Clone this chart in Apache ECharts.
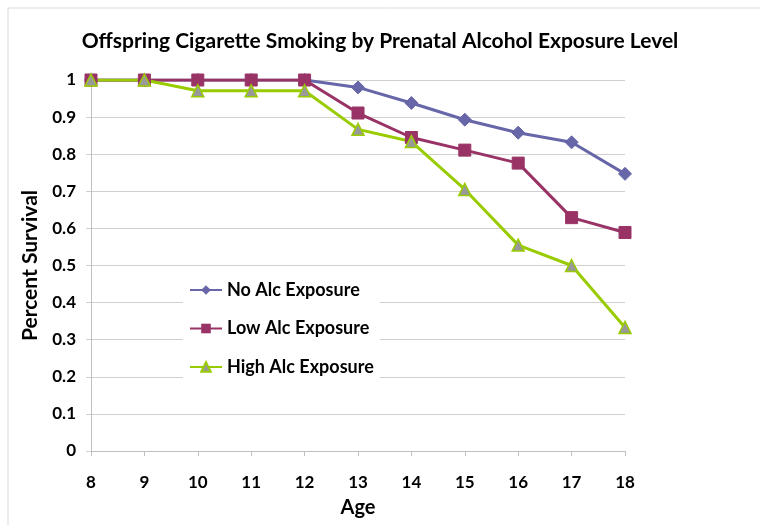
<!DOCTYPE html>
<html>
<head>
<meta charset="utf-8">
<script src="https://cdn.jsdelivr.net/npm/echarts@6/dist/echarts.min.js"></script>
<style>
  html, body { margin: 0; padding: 0; background: #fff; }
  #chart { width: 760px; height: 525px; }
</style>
</head>
<body>
<div id="chart"></div>
<script>
// ages on the x axis
const ages = ['8', '9', '10', '11', '12', '13', '14', '15', '16', '17', '18'];

// percent survival per exposure group
const noAlc   = [1, 1, 1, 1, 1, 0.98, 0.938, 0.893, 0.858, 0.832, 0.747];
const lowAlc  = [1, 1, 1, 1, 1, 0.911, 0.845, 0.811, 0.776, 0.629, 0.589];
const highAlc = [1, 1, 0.971, 0.971, 0.971, 0.867, 0.834, 0.705, 0.555, 0.5, 0.333];

const seriesNames = ['No Alc Exposure', 'Low Alc Exposure', 'High Alc Exposure'];

const FONT = 'Lato, "Open Sans", sans-serif';

const chart = echarts.init(document.getElementById('chart'));

const option = {
  backgroundColor: '#fff',
  animation: false,
  title: {
    text: 'Offspring Cigarette Smoking by Prenatal Alcohol Exposure Level',
    left: 'center',
    top: 26,
    textStyle: { fontFamily: FONT, fontSize: 21, fontWeight: 'bold', color: '#000' }
  },
  graphic: [{
    type: 'rect',
    shape: { x: 8, y: 8, width: 800, height: 600 },
    style: { fill: 'none', stroke: '#d9d9d9', lineWidth: 1 },
    silent: true
  }],
  legend: {
    orient: 'vertical',
    left: 183,
    top: 275,
    itemGap: 20.5,
    itemWidth: 32,
    itemHeight: 12,
    padding: [6, 6, 6, 6],
    backgroundColor: '#fff',
    textStyle: { fontFamily: FONT, fontSize: 18, fontWeight: 'bold', color: '#000' },
    data: seriesNames
  },
  grid: { left: 91, right: 135, top: 80, bottom: 74 },
  xAxis: {
    type: 'category',
    data: ages,
    boundaryGap: false,
    name: 'Age',
    nameLocation: 'middle',
    nameGap: 47,
    nameTextStyle: { fontFamily: FONT, fontSize: 20, fontWeight: 'bold', color: '#000' },
    axisLine: { lineStyle: { color: '#bfbfbf', width: 1 } },
    axisTick: { show: true, length: 5, alignWithLabel: true, lineStyle: { color: '#bfbfbf' } },
    axisLabel: { fontFamily: FONT, fontSize: 17, fontWeight: 'bold', color: '#000', margin: 23 },
    splitLine: { show: false }
  },
  yAxis: {
    type: 'value',
    min: 0,
    max: 1,
    interval: 0.1,
    name: 'Percent Survival',
    nameLocation: 'middle',
    nameGap: 50,
    nameTextStyle: { fontFamily: FONT, fontSize: 21, fontWeight: 'bold', color: '#000' },
    axisLine: { show: true, lineStyle: { color: '#bfbfbf', width: 1 } },
    axisTick: { show: true, length: 5, lineStyle: { color: '#d0d0d0' } },
    axisLabel: {
      fontFamily: FONT, fontSize: 17, fontWeight: 'bold', color: '#000', margin: 15,
      formatter: v => String(Math.round(v * 10) / 10)
    },
    splitLine: { lineStyle: { color: '#d0d0d0', width: 1 } }
  },
  series: [
    {
      name: seriesNames[0],
      type: 'line',
      data: noAlc,
      symbol: 'diamond',
      symbolSize: 13,
      lineStyle: { color: '#6666a8', width: 3 },
      itemStyle: { color: '#6666a8', borderColor: '#6666a8' }
    },
    {
      name: seriesNames[1],
      type: 'line',
      data: lowAlc,
      symbol: 'rect',
      symbolSize: 12,
      lineStyle: { color: '#993366', width: 3 },
      itemStyle: { color: '#993366', borderColor: '#993366' }
    },
    {
      name: seriesNames[2],
      type: 'line',
      data: highAlc,
      symbol: 'triangle',
      symbolSize: 12,
      lineStyle: { color: '#99cc00', width: 3 },
      itemStyle: { color: '#999999', borderColor: '#99cc00', borderWidth: 1.5 }
    }
  ]
};

chart.setOption(option);
</script>
</body>
</html>
